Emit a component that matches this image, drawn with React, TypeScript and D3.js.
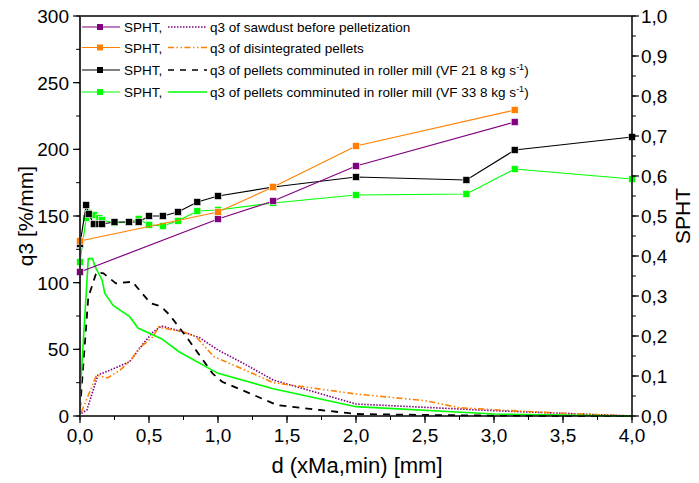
import React from 'react';
import * as d3 from 'd3';

// ---------- data ----------
// SPHT (right axis)
const sphtSawX = [0, 1.0, 1.4, 2.0, 3.15];
const sphtSawY = [0.36, 0.4925, 0.5375, 0.625, 0.735];
const sphtDisX = [0, 1.0, 1.4, 2.0, 3.15];
const sphtDisY = [0.4375, 0.51, 0.5725, 0.675, 0.765];
const sphtMillX = [0, 0.045, 0.063, 0.1, 0.14, 0.16, 0.25, 0.355, 0.425, 0.5, 0.6, 0.71, 0.85, 1.0, 1.4, 2.0, 2.8, 3.15, 4.0];
const sphtVF21Y = [0.43, 0.5275, 0.505, 0.48, 0.48, 0.48, 0.485, 0.485, 0.485, 0.5, 0.5, 0.51, 0.535, 0.55, 0.5725, 0.5975, 0.59, 0.665, 0.6975];
const sphtVF33Y = [0.385, 0.495, 0.508, 0.502, 0.495, 0.49, 0.483, 0.485, 0.493, 0.478, 0.475, 0.488, 0.5125, 0.515, 0.5325, 0.5525, 0.555, 0.6175, 0.5925];

// q3 (left axis)
const q3SawX = [0.01, 0.05, 0.13, 0.22, 0.36, 0.46, 0.53, 0.59, 0.75, 0.87, 1.0, 1.18, 1.4, 2.0, 2.5, 3.0, 3.5, 4.0];
const q3SawY = [2, 4.5, 30.7, 34.5, 40.7, 54.5, 63, 67.5, 63, 58.5, 49.5, 39.7, 27, 9, 6.5, 4, 2, 0];
const q3DisX = [0.01, 0.12, 0.2, 0.29, 0.37, 0.43, 0.53, 0.57, 0.6, 0.75, 0.84, 0.97, 1.14, 1.4, 2.0, 2.5, 2.75, 3.04, 3.5, 4.0];
const q3DisY = [3, 30.7, 28.5, 34.5, 42, 51, 59.5, 67, 66, 63, 59.5, 44.5, 37, 25, 16.5, 11.5, 6.2, 4.5, 2, 0];
const q3VF21X = [0, 0.06, 0.12, 0.17, 0.26, 0.38, 0.43, 0.51, 0.59, 0.65, 0.77, 0.96, 1.03, 1.23, 1.43, 1.74, 2.0, 2.5, 3.0, 4.0];
const q3VF21Y = [5, 89, 108, 107, 99.5, 100.7, 94.5, 84.7, 82, 75.7, 59.5, 32, 25.7, 17, 8.2, 4.5, 1.5, 0.8, 0.3, 0];
const q3VF33X = [0, 0.06, 0.09, 0.11, 0.16, 0.18, 0.24, 0.36, 0.42, 0.59, 0.72, 1.0, 1.4, 2.0, 3.0, 4.0];
const q3VF33Y = [14.5, 118, 118, 112, 102, 92, 83, 74.5, 66, 58, 48, 32, 20.5, 7, 1.5, 0];

const xTicks = [0, 0.5, 1, 1.5, 2, 2.5, 3, 3.5, 4];
const yLeftTicks = [0, 50, 100, 150, 200, 250, 300];
const yRightTicks = [0, 0.1, 0.2, 0.3, 0.4, 0.5, 0.6, 0.7, 0.8, 0.9, 1.0];

const legendSecond = [
  'q3 of sawdust before pelletization',
  'q3 of disintegrated pellets',
  'q3 of pellets comminuted in roller mill (VF 21 8 kg s',
  'q3 of pellets comminuted in roller mill (VF 33 8 kg s',
];

const PURPLE = '#800080';
const ORANGE = '#FF8000';
const BLACK = '#000000';
const GREEN = '#00FF00';
const FONT = '"Liberation Sans", Arial, sans-serif';

const PL = 80, PR = 632, PT = 16, PB = 416;

const fmt = (v: number) => v.toFixed(1).replace('.', ',');

export default function App() {
  const x = d3.scaleLinear().domain([0, 4]).range([PL, PR]);
  const yL = d3.scaleLinear().domain([0, 300]).range([PB, PT]);
  const yR = d3.scaleLinear().domain([0, 1]).range([PB, PT]);

  const lineL = (xs: number[], ys: number[]) =>
    d3.line<number>().x((d, i) => x(xs[i])).y((d) => yL(d))(ys) || '';
  const lineR = (xs: number[], ys: number[]) =>
    d3.line<number>().x((d, i) => x(xs[i])).y((d) => yR(d))(ys) || '';

  const xMinor = d3.range(0, 4.0001, 0.25);
  const yLMinor = d3.range(0, 300.001, 25);
  const yRMinor = d3.range(0, 1.0001, 0.05);

  const sphtSeries = [
    { xs: sphtMillX, ys: sphtVF33Y, c: GREEN },
    { xs: sphtMillX, ys: sphtVF21Y, c: BLACK },
    { xs: sphtSawX, ys: sphtSawY, c: PURPLE },
    { xs: sphtDisX, ys: sphtDisY, c: ORANGE },
  ];

  const q3Series = [
    { xs: q3SawX, ys: q3SawY, c: PURPLE, dash: '1.5,1.5', w: 1.6 },
    { xs: q3DisX, ys: q3DisY, c: ORANGE, dash: '6,2.5,1.5,2.5,1.5,2.5', w: 1.6 },
    { xs: q3VF21X, ys: q3VF21Y, c: BLACK, dash: '7,6', w: 1.8 },
    { xs: q3VF33X, ys: q3VF33Y, c: GREEN, dash: undefined, w: 1.6 },
  ];

  const legendRows = [
    { c: PURPLE, dash: '1.5,1.5', sup: false },
    { c: ORANGE, dash: '6,2.5,1.5,2.5,1.5,2.5', sup: false },
    { c: BLACK, dash: '6,6', sup: true },
    { c: GREEN, dash: undefined, sup: true },
  ];
  const legendY = [27, 47.5, 70, 92];

  const S = 7;
  const LF = 13.5;

  return (
    <svg width={699} height={483} style={{ position: 'absolute', left: 0, top: 0, background: '#fff' }} fontFamily={FONT}>
      <rect x={0} y={0} width={699} height={483} fill="#fff" />
      <defs>
        <clipPath id="plotclip">
          <rect x={PL - 5} y={PT} width={PR - PL + 10} height={PB - PT + 2} />
        </clipPath>
      </defs>

      {/* q3 curves */}
      <g clipPath="url(#plotclip)" fill="none">
        {q3Series.map((s, i) => (
          <path key={i} d={lineL(s.xs, s.ys)} stroke={s.c} strokeWidth={s.w} strokeDasharray={s.dash} />
        ))}
      </g>

      {/* SPHT lines + markers */}
      <g clipPath="url(#plotclip)">
        {sphtSeries.map((s, i) => (
          <g key={i}>
            <path d={lineR(s.xs, s.ys)} fill="none" stroke={s.c} strokeWidth={1.2} />
            {s.ys.map((v, j) => (
              <rect key={j} x={x(s.xs[j]) - S / 2} y={yR(v) - S / 2} width={S} height={S} fill={s.c} stroke="#fff" strokeWidth={0.6} />
            ))}
          </g>
        ))}
      </g>

      {/* frame */}
      <line x1={PL} x2={PR} y1={PT} y2={PT} stroke="#000" strokeWidth={1.5} />
      <line x1={PL} x2={PR} y1={PB} y2={PB} stroke="#000" strokeWidth={1.5} />
      <line x1={PL} x2={PL} y1={PT} y2={PB} stroke="#333" strokeWidth={2} />
      <line x1={PR} x2={PR} y1={PT} y2={PB} stroke="#000" strokeWidth={1.5} />

      {/* bottom axis */}
      {xMinor.map((t, i) => (
        <line key={'xm' + i} x1={x(t)} x2={x(t)} y1={PB} y2={PB + 4} stroke="#000" strokeWidth={1} />
      ))}
      {xTicks.map((t, i) => (
        <g key={'xt' + i}>
          <line x1={x(t)} x2={x(t)} y1={PB} y2={PB + 7} stroke="#000" strokeWidth={1.2} />
          <text x={x(t)} y={PB + 26} fontSize={19} textAnchor="middle" fill="#000">{fmt(t)}</text>
        </g>
      ))}

      {/* left axis */}
      {yLMinor.map((t, i) => (
        <line key={'ylm' + i} x1={PL - 4} x2={PL} y1={yL(t)} y2={yL(t)} stroke="#000" strokeWidth={1} />
      ))}
      {yLeftTicks.map((t, i) => (
        <g key={'ylt' + i}>
          <line x1={PL - 7} x2={PL} y1={yL(t)} y2={yL(t)} stroke="#000" strokeWidth={1.2} />
          <text x={PL - 11} y={yL(t) + 7} fontSize={19} textAnchor="end" fill="#000">{t}</text>
        </g>
      ))}

      {/* right axis */}
      {yRMinor.map((t, i) => (
        <line key={'yrm' + i} x1={PR} x2={PR + 4} y1={yR(t)} y2={yR(t)} stroke="#000" strokeWidth={1} />
      ))}
      {yRightTicks.map((t, i) => (
        <g key={'yrt' + i}>
          <line x1={PR} x2={PR + 7} y1={yR(t)} y2={yR(t)} stroke="#000" strokeWidth={1.2} />
          <text x={PR + 9} y={yR(t) + 7} fontSize={19} textAnchor="start" fill="#000">{fmt(t)}</text>
        </g>
      ))}

      {/* axis titles */}
      <text x={357} y={473} fontSize={22} textAnchor="middle" fill="#000">d (xMa,min) [mm]</text>
      <text transform={`translate(33,${(PT + PB) / 2}) rotate(-90)`} fontSize={21} textAnchor="middle" fill="#000">q3 [%/mm]</text>
      <text transform={`translate(690,${(PT + PB) / 2}) rotate(-90)`} fontSize={21} textAnchor="middle" fill="#000">SPHT</text>

      {/* legend */}
      {legendRows.map((r, i) => {
        const y = legendY[i];
        return (
          <g key={'lg' + i}>
            <line x1={82} x2={120} y1={y} y2={y} stroke={r.c} strokeWidth={1.2} />
            <rect x={100 - 3} y={y - 3} width={6} height={6} fill={r.c} />
            <text x={124} y={y + 5} fontSize={LF} fill="#000">SPHT,</text>
            <line x1={168} x2={207} y1={y} y2={y} stroke={r.c} strokeWidth={1.6} strokeDasharray={r.dash} />
            <text x={210} y={y + 5} fontSize={LF} fill="#000">
              {legendSecond[i]}
              {r.sup ? <tspan fontSize={9} dy={-5.5}>-1</tspan> : null}
              {r.sup ? <tspan fontSize={LF} dy={5.5}>)</tspan> : null}
            </text>
          </g>
        );
      })}
    </svg>
  );
}
